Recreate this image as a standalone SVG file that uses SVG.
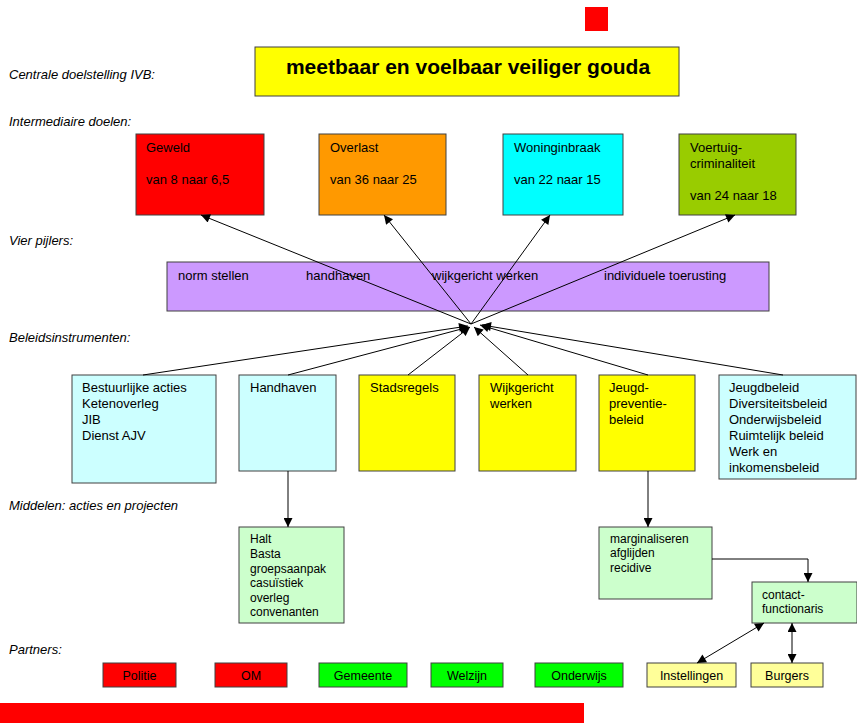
<svg xmlns="http://www.w3.org/2000/svg" width="857" height="723" viewBox="0 0 857 723">
<style>
text{font-family:"Liberation Sans",Arial,sans-serif;fill:#000}
.lbl{font-size:13px;font-style:italic}
.t{font-size:13px}
.s{font-size:12px}
.p{font-size:12.5px;text-anchor:middle}
.box{stroke:#404040;stroke-width:1}
.con{stroke:#000;stroke-width:1;fill:none}
</style>
<defs>
<marker id="ah" viewBox="0 0 10 10" refX="10" refY="5" markerWidth="11" markerHeight="9" orient="auto-start-reverse" markerUnits="userSpaceOnUse"><path d="M0,0 L10,5 L0,10 z" fill="#000"/></marker>
</defs>
<rect x="0" y="0" width="857" height="723" fill="#fff"/>
<rect x="585" y="7" width="23" height="24" fill="#f00"/>
<rect x="0" y="703" width="584" height="20" fill="#f00"/>

<text class="lbl" x="9" y="79">Centrale doelstelling IVB:</text>
<text class="lbl" x="9" y="126">Intermediaire doelen:</text>
<text class="lbl" x="9" y="245">Vier pijlers:</text>
<text class="lbl" x="9" y="342">Beleidsinstrumenten:</text>
<text class="lbl" x="9" y="510">Middelen: acties en projecten</text>
<text class="lbl" x="9" y="654">Partners:</text>

<g id="goal">
<rect class="box" x="255" y="47" width="424" height="49" fill="#ff0"/>
<text x="468" y="74" style="font-size:21px;font-weight:bold;text-anchor:middle">meetbaar en voelbaar veiliger gouda</text>
</g>

<g id="geweld">
<rect class="box" x="136" y="134" width="128" height="81" fill="#f00"/>
<text class="t" x="146" y="152">Geweld</text>
<text class="t" x="146" y="184">van 8 naar 6,5</text>
</g>
<g id="overlast">
<rect class="box" x="319" y="134" width="127" height="81" fill="#f90"/>
<text class="t" x="330" y="152">Overlast</text>
<text class="t" x="330" y="184">van 36 naar 25</text>
</g>
<g id="woninginbraak">
<rect class="box" x="503" y="134" width="120" height="81" fill="#0ff"/>
<text class="t" x="514" y="152">Woninginbraak</text>
<text class="t" x="514" y="184">van 22 naar 15</text>
</g>
<g id="voertuig">
<rect class="box" x="679" y="134" width="117" height="81" fill="#9c0"/>
<text class="t" x="690" y="152">Voertuig-</text>
<text class="t" x="690" y="168">criminaliteit</text>
<text class="t" x="690" y="200">van 24 naar 18</text>
</g>

<g id="pijlers">
<rect class="box" x="167" y="262" width="602" height="49" fill="#c9f"/>
<text class="t" x="178" y="280">norm stellen</text>
<text class="t" x="306" y="280">handhaven</text>
<text class="t" x="432" y="280">wijkgericht werken</text>
<text class="t" x="604" y="280">individuele toerusting</text>
</g>

<g id="bestuurlijk">
<rect class="box" x="72" y="375" width="144" height="108" fill="#cff"/>
<text class="t" x="82" y="392">Bestuurlijke acties</text>
<text class="t" x="82" y="408">Ketenoverleg</text>
<text class="t" x="82" y="424">JIB</text>
<text class="t" x="82" y="440">Dienst AJV</text>
</g>
<g id="handhaven">
<rect class="box" x="239" y="375" width="97" height="96" fill="#cff"/>
<text class="t" x="250" y="392">Handhaven</text>
</g>
<g id="stadsregels">
<rect class="box" x="359" y="375" width="96" height="96" fill="#ff0"/>
<text class="t" x="370" y="392">Stadsregels</text>
</g>
<g id="wijkgericht">
<rect class="box" x="479" y="375" width="97" height="96" fill="#ff0"/>
<text class="t" x="490" y="392">Wijkgericht</text>
<text class="t" x="490" y="408">werken</text>
</g>
<g id="jeugdpreventie">
<rect class="box" x="599" y="375" width="96" height="96" fill="#ff0"/>
<text class="t" x="609" y="392">Jeugd-</text>
<text class="t" x="609" y="408">preventie-</text>
<text class="t" x="609" y="424">beleid</text>
</g>
<g id="jeugdbeleid">
<rect class="box" x="719" y="375" width="137" height="104" fill="#cff"/>
<text class="t" x="729" y="392">Jeugdbeleid</text>
<text class="t" x="729" y="408">Diversiteitsbeleid</text>
<text class="t" x="729" y="424">Onderwijsbeleid</text>
<text class="t" x="729" y="440">Ruimtelijk beleid</text>
<text class="t" x="729" y="456">Werk en</text>
<text class="t" x="729" y="472">inkomensbeleid</text>
</g>

<g id="halt">
<rect class="box" x="239" y="527" width="105" height="96" fill="#cfc"/>
<text class="s" x="250" y="543">Halt</text>
<text class="s" x="250" y="558">Basta</text>
<text class="s" x="250" y="573">groepsaanpak</text>
<text class="s" x="250" y="587">casuïstiek</text>
<text class="s" x="250" y="602">overleg</text>
<text class="s" x="250" y="616">convenanten</text>
</g>
<g id="marginaliseren">
<rect class="box" x="599" y="527" width="113" height="72" fill="#cfc"/>
<text class="s" x="610" y="543">marginaliseren</text>
<text class="s" x="610" y="557">afglijden</text>
<text class="s" x="610" y="572">recidive</text>
</g>
<g id="contact">
<rect class="box" x="752" y="582" width="105" height="41" fill="#cfc"/>
<text class="s" x="762" y="599">contact-</text>
<text class="s" x="762" y="613">functionaris</text>
</g>

<g id="politie"><rect class="box" x="103" y="663" width="73" height="24" fill="#f00"/><text class="p" x="139.5" y="680">Politie</text></g>
<g id="om"><rect class="box" x="215" y="663" width="72" height="24" fill="#f00"/><text class="p" x="251" y="680">OM</text></g>
<g id="gemeente"><rect class="box" x="319" y="663" width="88" height="24" fill="#0f0"/><text class="p" x="363" y="680">Gemeente</text></g>
<g id="welzijn"><rect class="box" x="431" y="663" width="72" height="24" fill="#0f0"/><text class="p" x="467" y="680">Welzijn</text></g>
<g id="onderwijs"><rect class="box" x="535" y="663" width="88" height="24" fill="#0f0"/><text class="p" x="579" y="680">Onderwijs</text></g>
<g id="instellingen"><rect class="box" x="647" y="663" width="89" height="24" fill="#ff9"/><text class="p" x="691.5" y="680">Instellingen</text></g>
<g id="burgers"><rect class="box" x="751" y="663" width="72" height="24" fill="#ff9"/><text class="p" x="787" y="680">Burgers</text></g>

<g id="connectors">
<line class="con" x1="471" y1="324" x2="201" y2="215" marker-end="url(#ah)"/>
<line class="con" x1="471" y1="324" x2="384" y2="215" marker-end="url(#ah)"/>
<line class="con" x1="471" y1="324" x2="550" y2="215" marker-end="url(#ah)"/>
<line class="con" x1="471" y1="324" x2="735" y2="215" marker-end="url(#ah)"/>
<line class="con" x1="143" y1="375" x2="468" y2="326" marker-end="url(#ah)"/>
<line class="con" x1="288" y1="375" x2="469" y2="327" marker-end="url(#ah)"/>
<line class="con" x1="408" y1="375" x2="470" y2="327" marker-end="url(#ah)"/>
<line class="con" x1="528" y1="375" x2="474" y2="327" marker-end="url(#ah)"/>
<line class="con" x1="648" y1="375" x2="480" y2="325" marker-end="url(#ah)"/>
<line class="con" x1="783" y1="375" x2="482" y2="325" marker-end="url(#ah)"/>
<line class="con" x1="288" y1="471" x2="288" y2="527" marker-end="url(#ah)"/>
<line class="con" x1="648" y1="471" x2="648" y2="527" marker-end="url(#ah)"/>
<polyline class="con" points="712,559 808,559 808,582" marker-end="url(#ah)"/>
<line class="con" x1="697" y1="663" x2="764" y2="623" marker-start="url(#ah)" marker-end="url(#ah)"/>
<line class="con" x1="792" y1="663" x2="792" y2="623" marker-start="url(#ah)" marker-end="url(#ah)"/>
</g>
</svg>
